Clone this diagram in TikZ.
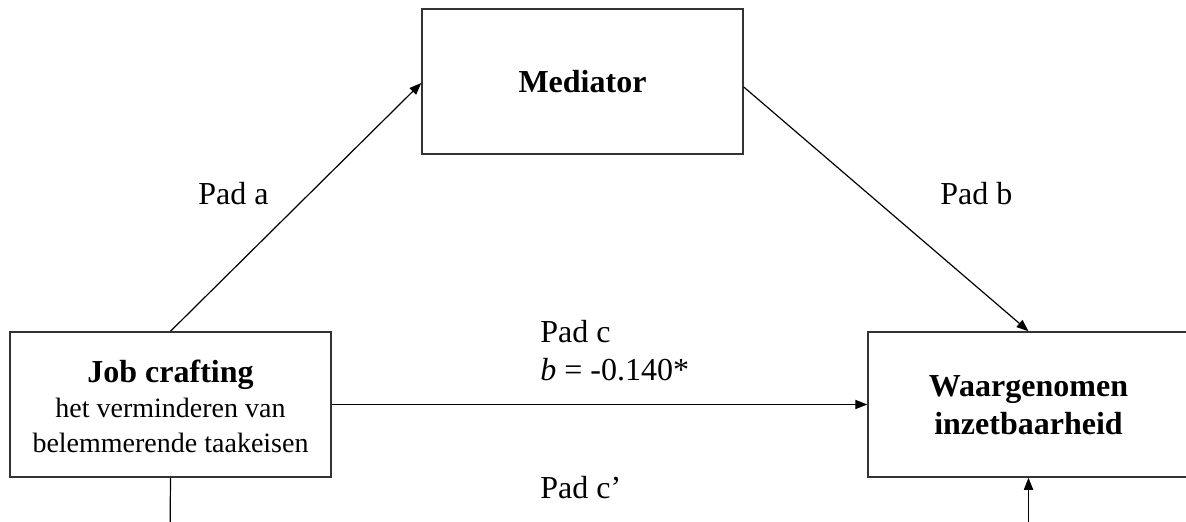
\documentclass[tikz,border=0pt]{standalone}
\usepackage{fontspec}
\setmainfont{Liberation Serif}
\usetikzlibrary{arrows.meta,calc}

\tikzset{
  varbox/.style={draw=black!80, line width=0.75pt, minimum width=160.5pt,
    minimum height=72.5pt, inner sep=0pt, align=center, font=\fontsize{16}{17.5}\selectfont},
  title/.style={anchor=base, inner sep=0pt, font=\fontsize{16}{19}\selectfont\bfseries},
  sub/.style={anchor=base, inner sep=0pt, font=\fontsize{14}{17}\selectfont},
  path/.style={draw, line width=0.6pt},
  arr/.style={path, -{Triangle[length=6pt,width=4.6pt]}},
  lbl/.style={anchor=base west, inner sep=0pt, font=\fontsize{16}{19}\selectfont},
}

\begin{document}
\begin{tikzpicture}[x=0.5pt,y=-0.5pt]
  \useasboundingbox (0,0) rectangle (1186,522);
  \clip (0,0) rectangle (1186,522);

  % variable boxes
  \node[varbox] (med) at (582.5,81.5) {\textbf{Mediator}};
  \node[varbox] (jc) at (170.5,404.5) {};
  \node[varbox] (wi) at (1028.5,404.5) {};

  % box texts, one line each
  \node[title] (jc1) at (170.5,383) {Job crafting};
  \node[sub]   (jc2) at (170.5,418) {het verminderen van};
  \node[sub]   (jc3) at (170.5,452) {belemmerende taakeisen};
  \node[title] (wi1) at (1028.5,397) {Waargenomen};
  \node[title] (wi2) at (1028.5,435) {inzetbaarheid};

  % loose ends running off the lower edge
  \coordinate (jcb) at (170,540);
  \coordinate (wib) at (1028.5,540);

  % paths
  \draw[arr] (jc.north) -- ([yshift=-0.75pt]med.west);
  \draw[arr] ([yshift=-2.75pt]med.east) -- (wi.north);
  \draw[arr] (jc.east) -- (wi.west);
  \draw[path] (jc.south) -- (jcb);
  \draw[arr] (wib) -- (wi.south);

  % path labels
  \node[lbl] (la) at (198,205) {Pad a};
  \node[lbl] (lb) at (940,205) {Pad b};
  \node[lbl] (lc) at (540,343) {Pad c};
  \node[lbl] (lcb) at (540,381) {\textit{b} = -0.140*};
  \node[lbl] (lcp) at (540,498) {Pad c’};
\end{tikzpicture}
\end{document}
